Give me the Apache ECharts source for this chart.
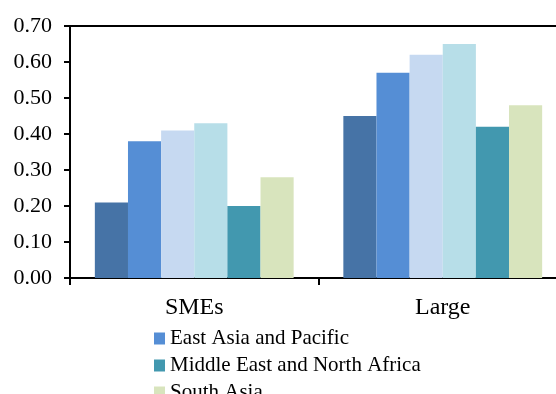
<!DOCTYPE html>
<html>
<head>
<meta charset="utf-8">
<script src="https://cdn.jsdelivr.net/npm/echarts@6/dist/echarts.min.js"></script>
<style>
  html, body { margin: 0; padding: 0; background: #ffffff; }
  #chart { width: 556px; height: 394px; }
</style>
</head>
<body>
<div id="chart"></div>
<script>
// Firm-size groups on the category axis
const categories = ['SMEs', 'Large'];

// Regional series (values per firm-size group)
const seriesNames = [
  'All',
  'East Asia and Pacific',
  'Europe and Central Asia',
  'Latin America and Caribbean',
  'Middle East and North Africa',
  'South Asia'
];
const allRegions      = [0.21, 0.45];
const eastAsia        = [0.38, 0.57];
const europeCentral   = [0.41, 0.62];
const latinAmerica    = [0.43, 0.65];
const middleEast      = [0.20, 0.42];
const southAsia       = [0.28, 0.48];
const seriesValues = [allRegions, eastAsia, europeCentral, latinAmerica, middleEast, southAsia];

const seriesColors = ['#4673A6', '#558ED5', '#C6D9F1', '#B7DEE8', '#4298AF', '#D8E4BD'];

// Only these entries appear in the legend
const legendNames = ['East Asia and Pacific', 'Middle East and North Africa', 'South Asia'];

const yTicks = { min: 0, max: 0.7, interval: 0.1 };

const FONT = '"Liberation Serif", "Times New Roman", serif';

const chart = echarts.init(document.getElementById('chart'), null, { renderer: 'canvas' });

chart.setOption({
  animation: false,
  backgroundColor: '#ffffff',
  // plot area runs past the right edge of the canvas
  grid: { left: 70, top: 26, width: 497, height: 252, containLabel: false, outerBoundsMode: 'none' },
  legend: {
    data: legendNames,
    orient: 'vertical',
    left: 154,
    top: 328,
    height: 200,
    padding: 0,
    itemWidth: 11,
    itemHeight: 12,
    itemGap: 6,
    icon: 'rect',
    textStyle: { fontFamily: FONT, fontSize: 21, color: '#000000' }
  },
  xAxis: [
    {
      type: 'category',
      data: categories,
      axisLine: { show: true, lineStyle: { color: '#000000', width: 2 } },
      axisTick: { show: true, alignWithLabel: false, length: 7, lineStyle: { color: '#000000', width: 2 } },
      axisLabel: { fontFamily: FONT, fontSize: 24, color: '#000000', margin: 18 }
    },
    {
      // top frame line of the plot area
      type: 'category',
      position: 'top',
      data: categories,
      axisLine: { show: true, lineStyle: { color: '#000000', width: 2 } },
      axisTick: { show: false },
      axisLabel: { show: false }
    }
  ],
  yAxis: {
    type: 'value',
    min: yTicks.min,
    max: yTicks.max,
    interval: yTicks.interval,
    axisLine: { show: true, lineStyle: { color: '#000000', width: 2 } },
    axisTick: { show: true, length: 6, lineStyle: { color: '#000000', width: 2 } },
    splitLine: { show: false },
    axisLabel: {
      fontFamily: FONT,
      fontSize: 22,
      color: '#000000',
      margin: 18,
      formatter: v => v.toFixed(2)
    }
  },
  series: seriesNames.map((name, i) => ({
    name: name,
    type: 'bar',
    xAxisIndex: 0,
    data: seriesValues[i],
    barGap: '0%',
    barCategoryGap: '20%',
    itemStyle: { color: seriesColors[i] }
  }))
});
</script>
</body>
</html>
